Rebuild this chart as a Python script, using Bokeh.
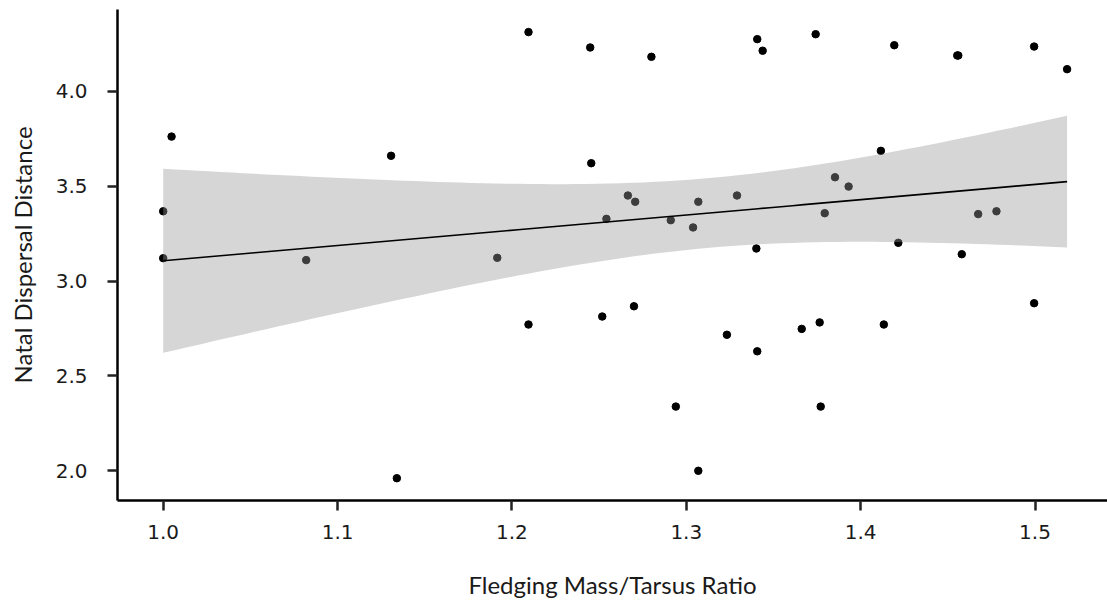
import numpy as np
from bokeh.plotting import figure
from bokeh.models import Range1d, FixedTicker, ColumnDataSource
from bokeh.embed import file_html
from bokeh.resources import INLINE

# Data
ratio = [1.0048, 1.0, 1.0, 1.082, 1.1307, 1.134,
         1.2095, 1.2449, 1.280, 1.2455, 1.2665, 1.2707, 1.2542, 1.2911,
         1.1916, 1.2095, 1.2518, 1.270, 1.294,
         1.3407, 1.3438, 1.3742, 1.4193, 1.4116, 1.3853, 1.3931, 1.3291,
         1.3069, 1.3794, 1.3039, 1.3402, 1.4216,
         1.3233, 1.3407, 1.3662, 1.3765, 1.4133, 1.3771, 1.3069,
         1.4554, 1.4560, 1.4995, 1.5184, 1.4674, 1.4779,
         1.458, 1.4995]
distance = [3.76, 3.367, 3.12, 3.11, 3.659, 1.962,
            4.31, 4.229, 4.18, 3.62, 3.45, 3.417, 3.327, 3.32,
            3.122, 2.771, 2.813, 2.867, 2.339,
            4.273, 4.212, 4.299, 4.241, 3.685, 3.546, 3.497, 3.45,
            3.417, 3.357, 3.282, 3.171, 3.201,
            2.717, 2.63, 2.748, 2.782, 2.771, 2.339, 2.001,
            4.187, 4.187, 4.234, 4.115, 3.352, 3.367,
            3.141, 2.883]

x_ticks = [1.0, 1.1, 1.2, 1.3, 1.4, 1.5]
y_ticks = [2.0, 2.5, 3.0, 3.5, 4.0]

# Linear fit with 95% confidence band (as geom_smooth(method="lm"))
x = np.array(ratio)
y = np.array(distance)
n = len(x)
b1, b0 = np.polyfit(x, y, 1)
resid = y - (b0 + b1 * x)
s = np.sqrt(np.sum(resid ** 2) / (n - 2))
xbar = x.mean()
sxx = np.sum((x - xbar) ** 2)
t_crit = 2.0141  # t(0.975, df=45)
xs = np.linspace(x.min(), x.max(), 80)
fit = b0 + b1 * xs
se = s * np.sqrt(1.0 / n + (xs - xbar) ** 2 / sxx)
band = ColumnDataSource(dict(x=xs, fit=fit, lo=fit - t_crit * se, hi=fit + t_crit * se))

p = figure(width=1107, height=602, output_backend="svg", toolbar_location=None,
           x_range=Range1d(0.97379, 1.54158), y_range=Range1d(1.8447, 4.429),
           min_border_left=117, min_border_right=0, min_border_top=9, min_border_bottom=102)
p.outline_line_color = None
p.xgrid.grid_line_color = None
p.ygrid.grid_line_color = None
p.background_fill_color = "white"
p.border_fill_color = "white"

p.scatter(ratio, distance, size=7.5, color="black")
p.varea(x="x", y1="lo", y2="hi", source=band, fill_color="#999999", fill_alpha=0.4)
p.line(x="x", y="fit", source=band, line_color="black", line_width=1.6)

for ax in (p.xaxis[0], p.yaxis[0]):
    ax.axis_line_color = "black"
    ax.axis_line_width = 2.5
    ax.major_tick_line_color = "#222222"
    ax.major_tick_line_width = 2.5
    ax.major_tick_out = 10
    ax.major_tick_in = 0
    ax.minor_tick_line_color = None
    ax.major_label_text_font = "DejaVu Sans"
    ax.major_label_text_font_size = "20px"
    ax.major_label_text_color = "#1a1a1a"
    ax.axis_label_text_font = "Lato"
    ax.axis_label_text_font_size = "24px"
    ax.axis_label_text_font_style = "normal"
    ax.axis_label_text_color = "#1a1a1a"

p.xaxis.ticker = FixedTicker(ticks=x_ticks)
p.yaxis.ticker = FixedTicker(ticks=y_ticks)
p.xaxis.major_label_overrides = {t: f"{t:.1f}" for t in x_ticks}
p.yaxis.major_label_overrides = {t: f"{t:.1f}" for t in y_ticks}
p.xaxis.major_label_standoff = 14
p.yaxis.major_label_standoff = 20
p.xaxis.axis_label = "Fledging Mass/Tarsus Ratio"
p.yaxis.axis_label = "Natal Dispersal Distance"
p.xaxis.axis_label_standoff = 28
p.yaxis.axis_label_standoff = 16

open("out.html", "w").write(file_html(p, INLINE))
